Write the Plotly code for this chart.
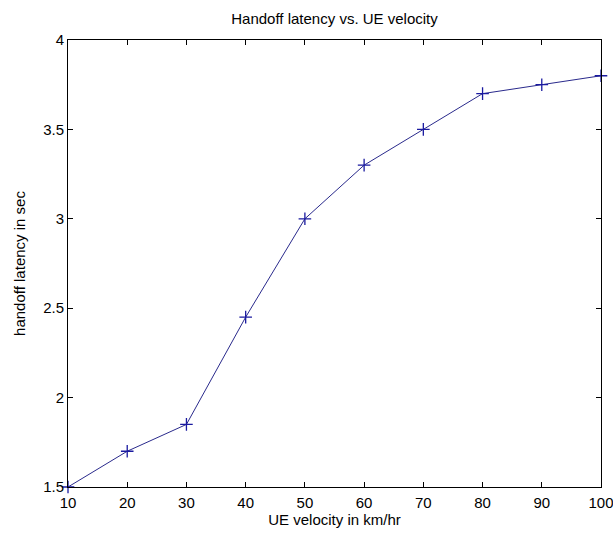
import plotly.graph_objects as go

# UE velocity (km/hr) and measured handoff latency (s)
velocity = [10, 20, 30, 40, 50, 60, 70, 80, 90, 100]
latency = [1.5, 1.7, 1.85, 2.45, 3.0, 3.3, 3.5, 3.7, 3.75, 3.8]

x_ticks = [10, 20, 30, 40, 50, 60, 70, 80, 90, 100]
y_ticks = [1.5, 2, 2.5, 3, 3.5, 4]

font_family = "Liberation Sans, Arial, sans-serif"
text_font = dict(family=font_family, size=15, color="#000")

fig = go.Figure()
fig.add_trace(go.Scatter(
    x=velocity, y=latency,
    mode="lines+markers",
    line=dict(color="#2a2a8c", width=1),
    marker=dict(symbol="cross-thin", size=9, line=dict(color="#1a1aa0", width=1.3)),
    cliponaxis=False,
    showlegend=False,
))

axis_common = dict(
    showgrid=False, zeroline=False,
    showline=True, linecolor="#000", linewidth=1, mirror="ticks",
    ticks="inside", ticklen=5, tickcolor="#000", tickwidth=1,
    tickfont=text_font, ticklabeloverflow="allow", automargin=False,
)

fig.update_layout(
    width=613, height=536,
    paper_bgcolor="white", plot_bgcolor="white",
    margin=dict(l=68, r=12, t=40, b=49),
    title=dict(text="Handoff latency vs. UE velocity", x=(68 + 601) / 2 / 613, xanchor="center",
               y=1 - 19 / 536, yanchor="middle", font=text_font),
    xaxis=dict(range=[10, 100], tickvals=x_ticks, ticktext=[str(v) for v in x_ticks],
               ticklabelstandoff=2,
               title=dict(text="UE velocity in km/hr", standoff=2, font=text_font),
               **axis_common),
    yaxis=dict(range=[1.5, 4], tickvals=y_ticks, ticktext=[f"{v:g}" for v in y_ticks],
               title=dict(text="handoff latency in sec", standoff=13, font=text_font),
               **axis_common),
)

fig.write_html("out.html")
